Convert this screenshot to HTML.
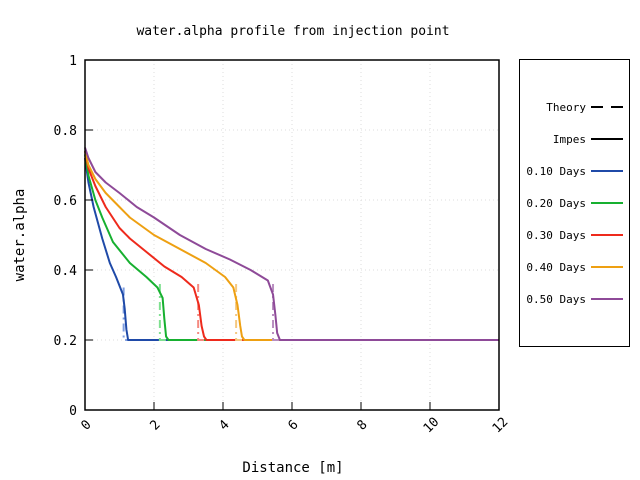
<!DOCTYPE html>
<html><head><meta charset="utf-8"><style>
body{margin:0;background:#fff;}
svg{display:block;font-family:"DejaVu Sans Mono","Liberation Mono",monospace;}
</style></head><body>
<svg id="chart" width="640" height="480">
<text x="293" y="35" font-size="13" text-anchor="middle">water.alpha profile from injection point</text>
<text x="293" y="472" font-size="14" text-anchor="middle">Distance [m]</text>
<text transform="translate(24,235) rotate(-90)" font-size="14" text-anchor="middle">water.alpha</text>
<g id="grid"></g><g id="series"></g><g id="axes"></g>
<rect x="519.5" y="59.5" width="110" height="287" fill="none" stroke="#000"/>
<g id="legend" font-size="11"></g>
</svg>
<script>
const xTicks=[0,2,4,6,8,10,12];
const yTicks=[0,0.2,0.4,0.6,0.8,1];
const yTickLabels=["0","0.2","0.4","0.6","0.8","1"];
const seriesNames=["0.10 Days","0.20 Days","0.30 Days","0.40 Days","0.50 Days"];
const colors=["#1f4aa8","#17b030","#ee2a1c","#eea012","#8e4a98"];
const theoryColors=["#7f9ee0","#7fe090","#f58a80","#f5c880","#b88ec0"];
const x1=[0,0.1,0.25,0.5,0.72,0.9,1.1,1.15,1.2,1.25,1.3,12];
const y1=[0.72,0.65,0.58,0.49,0.42,0.38,0.33,0.29,0.23,0.2,0.2,0.2];
const x2=[0,0.1,0.3,0.5,0.81,1.3,1.78,2.1,2.25,2.3,2.35,2.42,12];
const y2=[0.73,0.67,0.60,0.55,0.48,0.42,0.38,0.35,0.32,0.26,0.21,0.2,0.2];
const x3=[0,0.1,0.3,0.6,1,1.3,1.8,2.3,2.8,3.15,3.3,3.38,3.45,3.52,12];
const y3=[0.74,0.69,0.64,0.58,0.52,0.49,0.45,0.41,0.38,0.35,0.30,0.24,0.21,0.2,0.2];
const x4=[0,0.1,0.3,0.6,1,1.3,2,2.75,3.5,4.06,4.3,4.42,4.5,4.55,4.62,12];
const y4=[0.74,0.70,0.66,0.62,0.58,0.55,0.50,0.46,0.42,0.38,0.35,0.30,0.24,0.21,0.2,0.2];
const x5=[0,0.1,0.3,0.6,1,1.5,2,2.75,3.5,4.2,4.8,5.3,5.45,5.52,5.57,5.65,12];
const y5=[0.75,0.72,0.68,0.65,0.62,0.58,0.55,0.50,0.46,0.43,0.40,0.37,0.33,0.27,0.22,0.2,0.2];
const theoryFront=[1.12,2.17,3.28,4.38,5.45];
const theoryTop=[0.35,0.36,0.36,0.36,0.36];
const baseValue=0.2;
const X=v=>85+v*414/12, Y=v=>410-v*350;
const NS="http://www.w3.org/2000/svg";
function mk(tag,attrs,parent){const e=document.createElementNS(NS,tag);for(const k in attrs)e.setAttribute(k,attrs[k]);parent.appendChild(e);return e;}
const grid=document.getElementById('grid'),axes=document.getElementById('axes'),ser=document.getElementById('series'),leg=document.getElementById('legend');
xTicks.forEach(t=>{
 const g=mk('line',{x1:X(t),x2:X(t),y1:60,y2:410,stroke:'#ddd','stroke-dasharray':'1,3'},grid);
 
 
 const tk=mk('line',{x1:X(t),x2:X(t),y1:410,y2:402,stroke:'#000'},axes);
 
 
 const tx=mk('text',{transform:`translate(${X(t)+4},${428}) rotate(-45)`,'font-size':13,'text-anchor':'middle'},axes);
 tx.textContent=String(t);
 
 
});
yTicks.forEach((t,i)=>{
 const g=mk('line',{x1:85,x2:499,y1:Y(t),y2:Y(t),stroke:'#ddd','stroke-dasharray':'1,3'},grid);
 
 
 const tk=mk('line',{x1:85,x2:93,y1:Y(t),y2:Y(t),stroke:'#000'},axes);
 
 
 const tx=mk('text',{x:77,y:Y(t)+5,'font-size':13,'text-anchor':'end'},axes);
 tx.textContent=yTickLabels[i];
 
 
});
const fr=mk('rect',{x:85,y:60,width:414,height:350,fill:'none',stroke:'#000','stroke-width':1.5},axes);


const xs=[x1,x2,x3,x4,x5],ys=[y1,y2,y3,y4,y5];
xs.forEach((xa,i)=>{
 const tf=theoryFront[i];
 let d=`M${X(0)},${Y(ys[i][0])}`;
 const th=mk('path',{d:`M${X(tf)},${Y(theoryTop[i])}L${X(tf)},${Y(baseValue)}L${X(tf+1)},${Y(baseValue)}`,fill:'none',stroke:theoryColors[i],'stroke-width':2,'stroke-dasharray':'8,4,2,4'},ser);
 
 
 xa.forEach((v,j)=>{d+=`L${X(v)},${Y(ys[i][j])}`;});
 const p=mk('path',{d,fill:'none',stroke:colors[i],'stroke-width':2,'stroke-linejoin':'round'},ser);
 
 
});
const labels=["Theory","Impes"].concat(seriesNames);
labels.forEach((l,i)=>{
 const y=107+i*32;
 const t=mk('text',{x:586,y:y+4,'text-anchor':'end'},leg);
 t.textContent=l;
 
 
 const c=i<2?'#000':colors[i-2];
 const ln=mk('line',{x1:591,x2:623,y1:y,y2:y,stroke:c,'stroke-width':2,'stroke-dasharray':i===0?'12,8,3,0':'none'},leg);
 
 
});
</script>
</body></html>
